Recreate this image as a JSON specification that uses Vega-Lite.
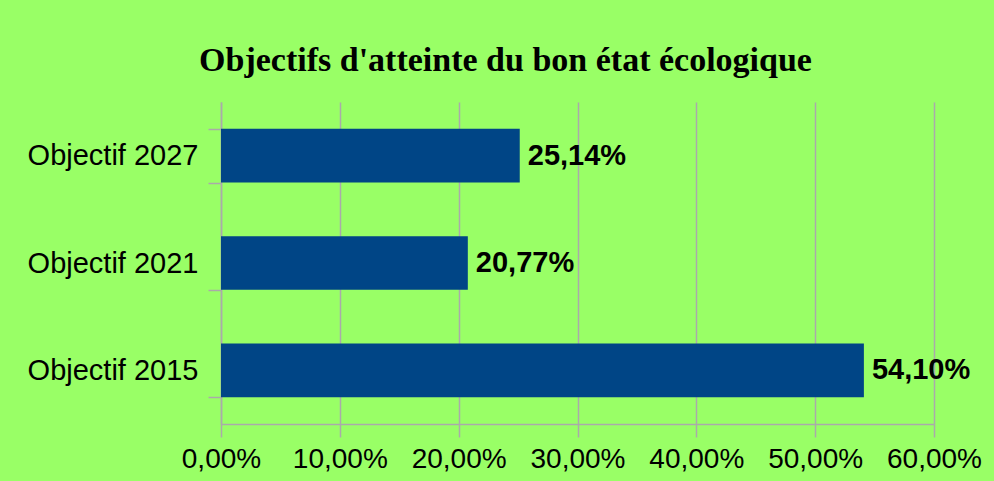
{
  "$schema": "https://vega.github.io/schema/vega-lite/v6.json",
  "width": 713,
  "height": 322,
  "autosize": {"type": "none"},
  "padding": {"left": 221, "top": 102, "right": 60, "bottom": 57},
  "background": "#99ff66",
  "config": {
    "locale": {"number": {"decimal": ",", "thousands": " ", "grouping": [3], "currency": ["", " €"]}},
    "view": {"stroke": null}
  },
  "title": {
    "text": "Objectifs d'atteinte du bon état écologique",
    "font": "Liberation Serif",
    "fontSize": 34,
    "fontWeight": "bold",
    "color": "#000000",
    "anchor": "middle",
    "dx": -72,
    "offset": 10
  },
  "data": {
    "values": [
      {"objectif": "Objectif 2027", "valeur": 0.2514},
      {"objectif": "Objectif 2021", "valeur": 0.2077},
      {"objectif": "Objectif 2015", "valeur": 0.541}
    ]
  },
  "encoding": {
    "y": {
      "field": "objectif",
      "type": "nominal",
      "sort": ["Objectif 2027", "Objectif 2021", "Objectif 2015"],
      "scale": {"paddingInner": 0.5, "paddingOuter": 0.25},
      "axis": {
        "title": null,
        "tickBand": "extent",
        "tickSize": 13,
        "tickColor": "#aaaaaa",
        "tickWidth": 1.5,
        "domainColor": "#aaaaaa",
        "domainWidth": 1.5,
        "labelFont": "Liberation Sans",
        "labelFontSize": 29,
        "labelColor": "#000000",
        "labelPadding": 10,
        "grid": false
      }
    },
    "x": {
      "field": "valeur",
      "type": "quantitative",
      "scale": {"domain": [0, 0.6], "nice": false},
      "axis": {
        "title": null,
        "format": ".2%",
        "values": [0, 0.1, 0.2, 0.3, 0.4, 0.5, 0.6],
        "labelOverlap": false,
        "tickSize": 13,
        "tickColor": "#aaaaaa",
        "tickWidth": 1.5,
        "domainColor": "#aaaaaa",
        "domainWidth": 1.5,
        "gridColor": "#aaaaaa",
        "gridWidth": 1.5,
        "gridOpacity": 1,
        "labelFont": "Liberation Sans",
        "labelFontSize": 28,
        "labelColor": "#000000",
        "labelPadding": 8,
        "labelFlush": false
      }
    }
  },
  "layer": [
    {"mark": {"type": "bar", "color": "#004586"}},
    {
      "mark": {"type": "text", "align": "left", "dx": 8, "font": "Liberation Sans", "fontSize": 29, "fontWeight": "bold", "color": "#000000"},
      "encoding": {"text": {"field": "valeur", "type": "quantitative", "format": ".2%"}}
    }
  ]
}
